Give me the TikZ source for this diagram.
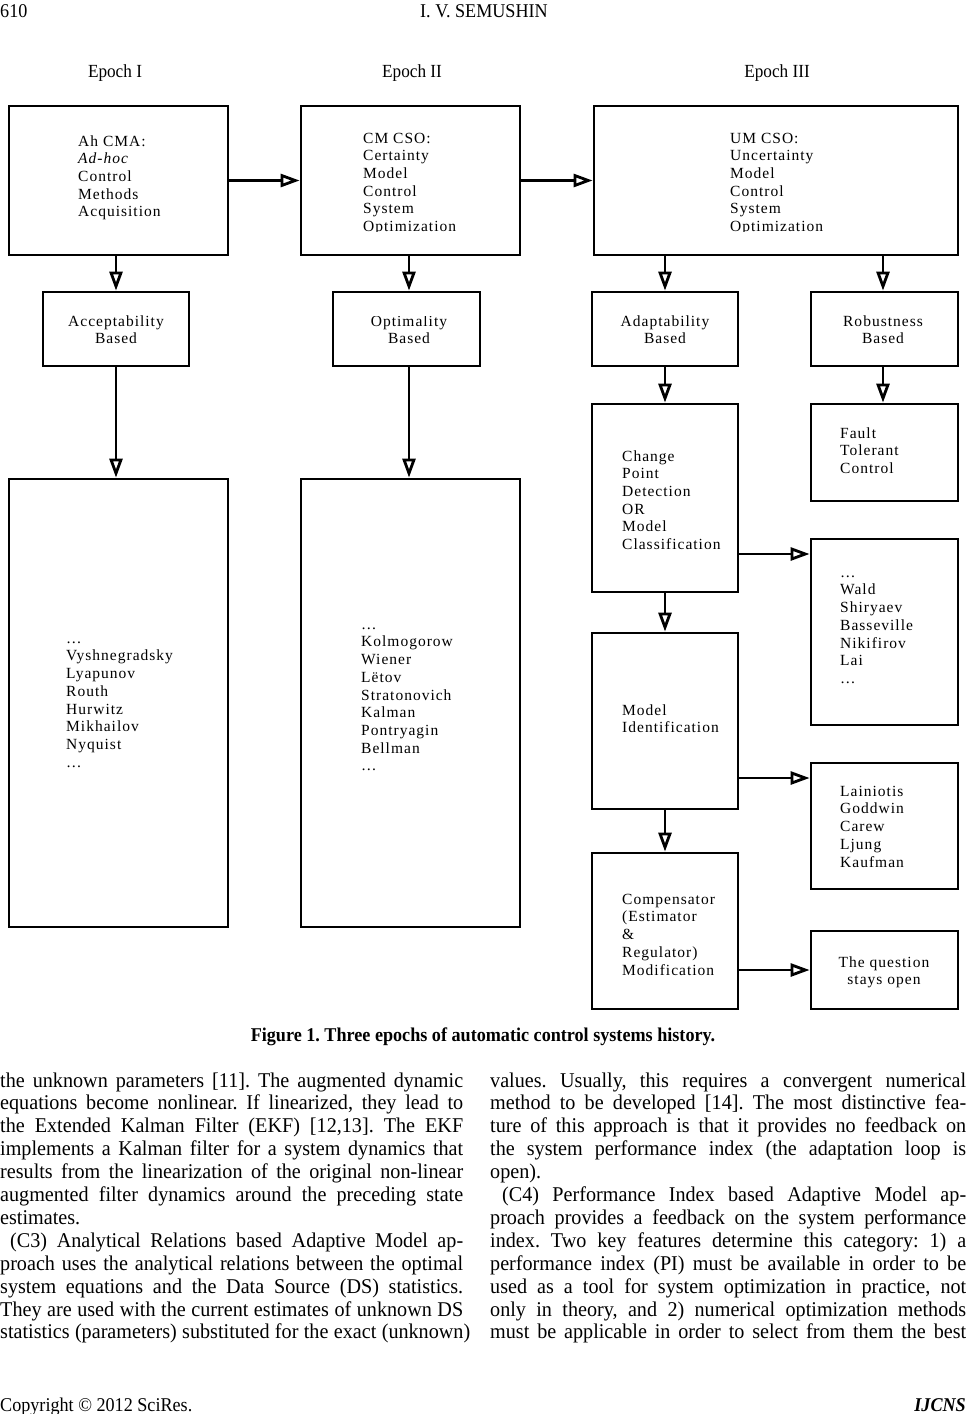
\documentclass[tikz,border=0pt]{standalone}
\usepackage{fontspec}
\usetikzlibrary{arrows.meta}
\setmainfont{Liberation Serif}
\newfontfamily\dgf{Liberation Serif}[LetterSpace=6.5]
\newfontfamily\bdf{Liberation Serif}[FakeStretch=0.93]
\newfontfamily\bodyf{Liberation Serif}[FakeStretch=0.96]
\begin{document}
\frenchspacing
\begin{tikzpicture}[x=1pt,y=-1pt,
  bx/.style={draw, line width=2.8pt, rectangle, inner sep=0pt},
  arr/.style={line width=2.8pt, -{Triangle[open, length=19pt, width=13pt]}},
  dtxt/.style={font=\dgf\fontsize{15.5}{17.7}\selectfont, inner sep=0pt, align=left, anchor=north west},
  dtxtc/.style={dtxt, align=center, anchor=north},
  bodyt/.style={font=\bodyf\frenchspacing\fontsize{21}{22.9}\selectfont, inner sep=0pt, anchor=base west},
  hdr/.style={font=\bdf\fontsize{19.5}{22}\selectfont, inner sep=0pt},
  epo/.style={font=\bdf\fontsize{18.5}{22}\selectfont, inner sep=0pt, anchor=base}]
\useasboundingbox (0,0) rectangle (966,1414);

% header
\node[hdr, anchor=base west] (pg) at (0,17) {610};
\node[hdr, anchor=base] (au) at (484,17) {I. V. SEMUSHIN};

% epochs
\node[epo] (e1) at (115,77) {Epoch I};
\node[epo] (e2) at (412,77) {Epoch II};
\node[epo] (e3) at (777,77) {Epoch III};

% boxes
\node[bx, minimum width=219pt, minimum height=149pt] (A1) at (118.5,180.5) {};
\node[bx, minimum width=219pt, minimum height=149pt] (A2) at (410.5,180.5) {};
\node[bx, minimum width=364pt, minimum height=149pt] (A3) at (776,180.5) {};
\node[bx, minimum width=146pt, minimum height=74pt] (Acc) at (116,329) {};
\node[bx, minimum width=147pt, minimum height=74pt] (Opt) at (406.5,329) {};
\node[bx, minimum width=146pt, minimum height=74pt] (Ada) at (665,329) {};
\node[bx, minimum width=147pt, minimum height=74pt] (Rob) at (884.5,329) {};
\node[bx, minimum width=219pt, minimum height=448pt] (BL) at (118.5,703) {};
\node[bx, minimum width=219pt, minimum height=448pt] (BM) at (410.5,703) {};
\node[bx, minimum width=146pt, minimum height=188pt] (CP) at (665,498) {};
\node[bx, minimum width=147pt, minimum height=97pt] (FT) at (884.5,452.5) {};
\node[bx, minimum width=147pt, minimum height=186pt] (WL) at (884.5,632) {};
\node[bx, minimum width=146pt, minimum height=176pt] (MI) at (665,721) {};
\node[bx, minimum width=147pt, minimum height=126pt] (LN) at (884.5,826) {};
\node[bx, minimum width=146pt, minimum height=156pt] (CM) at (665,931) {};
\node[bx, minimum width=147pt, minimum height=78pt] (QS) at (884.5,970) {};

% texts
\node[dtxt] (tA1) at (78,133.6) {\strut Ah CMA:\\\textit{Ad-hoc}\\Control\\Methods\\Acquisition};
\begin{scope}
\clip (290,100) rectangle (960,231);
\node[dtxt] (tA2) at (363,130.6) {\strut CM CSO:\\Certainty\\Model\\Control\\System\\Optimization};
\node[dtxt] (tA3) at (730,130.6) {\strut UM CSO:\\Uncertainty\\Model\\Control\\System\\Optimization};
\end{scope}
\node[dtxtc] (tAcc) at (116,313.6) {\strut Acceptability\\Based};
\begin{scope}
\clip (333,316) rectangle (480,362);
\node[dtxtc] (tOpt) at (409,313.6) {\strut Optimality\\Based};
\end{scope}
\node[dtxtc] (tAda) at (665,313.6) {\strut Adaptability\\Based};
\node[dtxtc] (tRob) at (883,313.6) {\strut Robustness\\Based};
\node[dtxt] (tBL) at (66,630.6) {\strut …\\Vyshnegradsky\\Lyapunov\\Routh\\Hurwitz\\Mikhailov\\Nyquist\\…};
\node[dtxt] (tBM) at (361,616.6) {\strut …\\Kolmogorow\\Wiener\\Lëtov\\Stratonovich\\Kalman\\Pontryagin\\Bellman\\…};
\node[dtxt] (tCP) at (622,448.6) {\strut Change\\Point\\Detection\\OR\\Model\\Classification};
\node[dtxt] (tFT) at (840,425.6) {\strut Fault\\Tolerant\\Control};
\node[dtxt] (tWL) at (840,564.6) {\strut …\\Wald\\Shiryaev\\Basseville\\Nikifirov\\Lai\\…};
\node[dtxt] (tMI) at (622,702.6) {\strut Model\\Identification};
\node[dtxt] (tLN) at (840,783.6) {\strut Lainiotis\\Goddwin\\Carew\\Ljung\\Kaufman};
\node[dtxt] (tCM) at (622,891.6) {\strut Compensator\\(Estimator\\\&\\Regulator)\\Modification};
\node[dtxtc] (tQS) at (884,954.6) {\strut The question\\stays open};

% connectors
\draw[arr] (A1) -- (A2);
\draw[arr] (A2) -- (A3);
\draw[arr] (A1.south -| Acc.north) -- (Acc.north);
\draw[arr] (A2.south -| tOpt.north) -- (tOpt.north |- Opt.north);
\draw[arr] (A3.south -| Ada.north) -- (Ada.north);
\draw[arr] (A3.south -| tRob.north) -- (tRob.north |- Rob.north);
\draw[arr] (Acc.south) -- (Acc.south |- BL.north);
\draw[arr] (Opt.south -| tOpt.north) -- (tOpt.north |- BM.north);
\draw[arr] (Ada.south) -- (CP.north);
\draw[arr] (Rob.south -| tRob.north) -- (tRob.north |- FT.north);
\draw[arr] (CP.south) -- (MI.north);
\draw[arr] (MI.south) -- (CM.north);
\draw[arr] ([yshift=-56pt]CP.east) -- ([yshift=-56pt]CP.east -| WL.west);
\draw[arr] ([yshift=-57pt]MI.east) -- ([yshift=-57pt]MI.east -| LN.west);
\draw[arr] (CM.east |- QS.west) -- (QS.west);

% caption
\node[hdr, anchor=base, font=\bdf\bfseries\fontsize{19.5}{22}\selectfont] (cap) at (483,1041) {Figure 1. Three epochs of automatic control systems history.};

% body text, left column
\node[bodyt] (l1) at (0,1087) {\makebox[463pt][s]{the unknown parameters [11]. The augmented dynamic}};
\node[bodyt] (l2) at (0,1109.9) {\makebox[463pt][s]{equations become nonlinear. If linearized, they lead to}};
\node[bodyt] (l3) at (0,1132.8) {\makebox[463pt][s]{the Extended Kalman Filter (EKF) [12,13]. The EKF}};
\node[bodyt] (l4) at (0,1155.7) {\makebox[463pt][s]{implements a Kalman filter for a system dynamics that}};
\node[bodyt] (l5) at (0,1178.6) {\makebox[463pt][s]{results from the linearization of the original non-linear}};
\node[bodyt] (l6) at (0,1201.5) {\makebox[463pt][s]{augmented filter dynamics around the preceding state}};
\node[bodyt] (l7) at (0,1224.4) {estimates.};
\node[bodyt] (l8) at (10,1247.3) {\makebox[453pt][s]{(C3) Analytical Relations based Adaptive Model ap-}};
\node[bodyt] (l9) at (0,1270.2) {\makebox[463pt][s]{proach uses the analytical relations between the optimal}};
\node[bodyt] (l10) at (0,1293.1) {\makebox[463pt][s]{system equations and the Data Source (DS) statistics.}};
\node[bodyt] (l11) at (0,1316) {\makebox[463pt][s]{They are used with the current estimates of unknown DS}};
\node[bodyt] (l12) at (0,1338.9) {\makebox[470pt][s]{statistics (parameters) substituted for the exact (unknown)}};

% body text, right column
\node[bodyt] (r1) at (490,1087) {\makebox[476pt][s]{values. Usually, this requires a convergent numerical}};
\node[bodyt] (r2) at (490,1109.9) {\makebox[476pt][s]{method to be developed [14]. The most distinctive fea-}};
\node[bodyt] (r3) at (490,1132.8) {\makebox[476pt][s]{ture of this approach is that it provides no feedback on}};
\node[bodyt] (r4) at (490,1155.7) {\makebox[476pt][s]{the system performance index (the adaptation loop is}};
\node[bodyt] (r5) at (490,1178.6) {open).};
\node[bodyt] (r6) at (502,1201.5) {\makebox[464pt][s]{(C4) Performance Index based Adaptive Model ap-}};
\node[bodyt] (r7) at (490,1224.4) {\makebox[476pt][s]{proach provides a feedback on the system performance}};
\node[bodyt] (r8) at (490,1247.3) {\makebox[476pt][s]{index. Two key features determine this category: 1) a}};
\node[bodyt] (r9) at (490,1270.2) {\makebox[476pt][s]{performance index (PI) must be available in order to be}};
\node[bodyt] (r10) at (490,1293.1) {\makebox[476pt][s]{used as a tool for system optimization in practice, not}};
\node[bodyt] (r11) at (490,1316) {\makebox[476pt][s]{only in theory, and 2) numerical optimization methods}};
\node[bodyt] (r12) at (490,1338.9) {\makebox[476pt][s]{must be applicable in order to select from them the best}};

% footer
\node[hdr, anchor=base west] (cp) at (0,1411) {Copyright © 2012 SciRes.};
\node[hdr, anchor=base east] (jn) at (966,1411) {\textbf{\textit{IJCNS}}};
\end{tikzpicture}
\end{document}
